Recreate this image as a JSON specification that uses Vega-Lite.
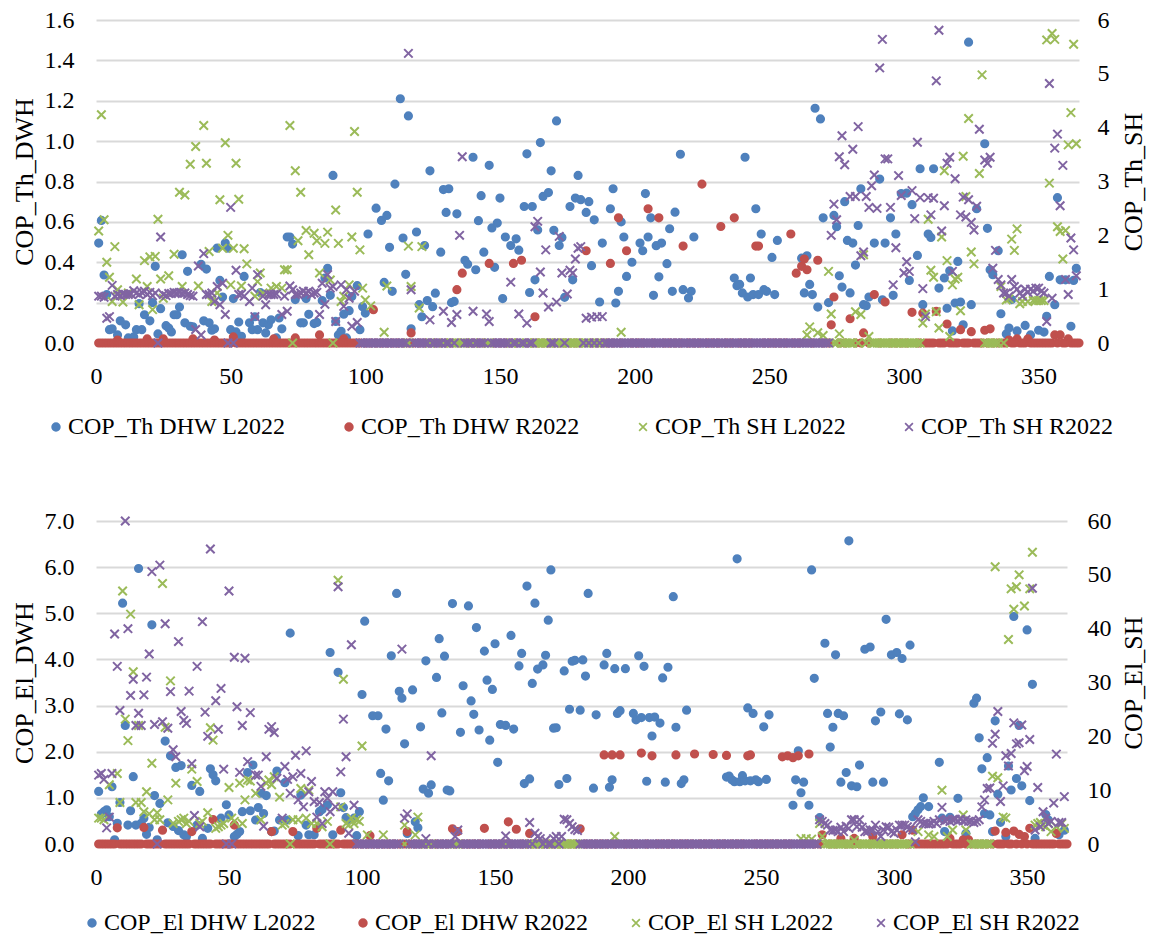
{"$schema":"https://vega.github.io/schema/vega-lite/v6.json","background":"white","padding":{"left":11,"top":8,"right":0,"bottom":0},"bounds":"flush","spacing":178,"resolve":{"scale":{"stroke":"independent","fill":"independent","shape":"independent"},"legend":{"stroke":"independent","fill":"independent","shape":"independent"}},"config":{"view":{"stroke":null},"font":"Liberation Serif","axis":{"labelFont":"Liberation Serif","titleFont":"Liberation Serif","labelFontSize":24,"titleFontSize":26,"labelColor":"#000","titleColor":"#000","titleFontWeight":"normal","ticks":false,"domain":false,"labelFlush":false},"legend":{"labelFont":"Liberation Serif","labelFontSize":24,"labelColor":"#000","labelLimit":0}},
"datasets":{
"a":[{"d":1,"v":0.495},{"d":2,"v":0.607},{"d":3,"v":0.337},{"d":4,"v":0.24},{"d":5,"v":0.066},{"d":6,"v":0.07},{"d":8,"v":0.04},{"d":9,"v":0.11},{"d":11,"v":0.09},{"d":12,"v":0.025},{"d":14,"v":0.03},{"d":15,"v":0.066},{"d":16,"v":0.195},{"d":17,"v":0.066},{"d":18,"v":0.14},{"d":20,"v":0.11},{"d":21,"v":0.2},{"d":22,"v":0.38},{"d":23,"v":0.045},{"d":24,"v":0.17},{"d":26,"v":0.086},{"d":27,"v":0.074},{"d":28,"v":0.055},{"d":29,"v":0.14},{"d":30,"v":0.14},{"d":31,"v":0.178},{"d":32,"v":0.437},{"d":33,"v":0.1},{"d":34,"v":0.355},{"d":35,"v":0.083},{"d":36,"v":0.08},{"d":39,"v":0.39},{"d":40,"v":0.11},{"d":41,"v":0.366},{"d":42,"v":0.1},{"d":43,"v":0.063},{"d":44,"v":0.07},{"d":45,"v":0.47},{"d":46,"v":0.31},{"d":47,"v":0.228},{"d":48,"v":0.495},{"d":49,"v":0.47},{"d":50,"v":0.066},{"d":51,"v":0.22},{"d":52,"v":0.055},{"d":53,"v":0.104},{"d":54,"v":0.033},{"d":55,"v":0.33},{"d":57,"v":0.1},{"d":58,"v":0.066},{"d":59,"v":0.13},{"d":60,"v":0.066},{"d":61,"v":0.25},{"d":62,"v":0.1},{"d":63,"v":0.05},{"d":64,"v":0.09},{"d":65,"v":0.115},{"d":67,"v":0.025},{"d":68,"v":0.124},{"d":69,"v":0.07},{"d":71,"v":0.525},{"d":72,"v":0.525},{"d":73,"v":0.49},{"d":74,"v":0.215},{"d":76,"v":0.1},{"d":77,"v":0.1},{"d":78,"v":0.22},{"d":79,"v":0.142},{"d":81,"v":0.096},{"d":82,"v":0.102},{"d":84,"v":0.21},{"d":85,"v":0.322},{"d":86,"v":0.37},{"d":87,"v":0.236},{"d":88,"v":0.83},{"d":89,"v":0.107},{"d":90,"v":0.04},{"d":91,"v":0.058},{"d":92,"v":0.143},{"d":93,"v":0.025},{"d":94,"v":0.16},{"d":95,"v":0.23},{"d":97,"v":0.284},{"d":98,"v":0.066},{"d":99,"v":0.18},{"d":100,"v":0.148},{"d":101,"v":0.54},{"d":104,"v":0.668},{"d":106,"v":0.607},{"d":107,"v":0.3},{"d":108,"v":0.632},{"d":109,"v":0.474},{"d":110,"v":0.256},{"d":111,"v":0.787},{"d":113,"v":1.21},{"d":114,"v":0.52},{"d":115,"v":0.34},{"d":116,"v":1.125},{"d":117,"v":0.07},{"d":119,"v":0.55},{"d":120,"v":0.19},{"d":121,"v":0.13},{"d":122,"v":0.483},{"d":123,"v":0.21},{"d":124,"v":0.853},{"d":125,"v":0.18},{"d":126,"v":0.247},{"d":128,"v":0.45},{"d":129,"v":0.76},{"d":130,"v":0.647},{"d":131,"v":0.764},{"d":132,"v":0.2},{"d":133,"v":0.206},{"d":134,"v":0.64},{"d":137,"v":0.41},{"d":138,"v":0.39},{"d":140,"v":0.92},{"d":141,"v":0.363},{"d":142,"v":0.606},{"d":143,"v":0.73},{"d":144,"v":0.45},{"d":146,"v":0.88},{"d":147,"v":0.57},{"d":148,"v":0.375},{"d":149,"v":0.594},{"d":150,"v":0.718},{"d":151,"v":0.22},{"d":152,"v":0.525},{"d":154,"v":0.483},{"d":156,"v":0.516},{"d":157,"v":0.46},{"d":159,"v":0.676},{"d":160,"v":0.937},{"d":161,"v":0.25},{"d":162,"v":0.676},{"d":163,"v":0.313},{"d":164,"v":0.56},{"d":165,"v":0.993},{"d":166,"v":0.726},{"d":168,"v":0.745},{"d":169,"v":0.853},{"d":170,"v":0.558},{"d":171,"v":1.1},{"d":172,"v":0.483},{"d":173,"v":0.523},{"d":174,"v":0.226},{"d":176,"v":0.676},{"d":177,"v":0.313},{"d":178,"v":0.718},{"d":179,"v":0.83},{"d":180,"v":0.71},{"d":182,"v":0.647},{"d":183,"v":0.7},{"d":184,"v":0.383},{"d":185,"v":0.61},{"d":187,"v":0.203},{"d":188,"v":0.495},{"d":191,"v":0.665},{"d":192,"v":0.764},{"d":193,"v":0.198},{"d":194,"v":0.256},{"d":195,"v":0.6},{"d":196,"v":0.525},{"d":197,"v":0.33},{"d":199,"v":0.4},{"d":202,"v":0.495},{"d":203,"v":0.457},{"d":204,"v":0.74},{"d":205,"v":0.525},{"d":206,"v":0.62},{"d":207,"v":0.236},{"d":208,"v":0.482},{"d":209,"v":0.328},{"d":210,"v":0.495},{"d":212,"v":0.393},{"d":213,"v":0.566},{"d":214,"v":0.256},{"d":215,"v":0.648},{"d":217,"v":0.935},{"d":218,"v":0.264},{"d":220,"v":0.223},{"d":221,"v":0.256},{"d":222,"v":0.525},{"d":237,"v":0.322},{"d":238,"v":0.284},{"d":239,"v":0.29},{"d":240,"v":0.248},{"d":241,"v":0.92},{"d":242,"v":0.228},{"d":243,"v":0.322},{"d":244,"v":0.24},{"d":245,"v":0.665},{"d":246,"v":0.24},{"d":247,"v":0.54},{"d":248,"v":0.264},{"d":249,"v":0.256},{"d":251,"v":0.424},{"d":252,"v":0.24},{"d":253,"v":0.508},{"d":262,"v":0.42},{"d":263,"v":0.248},{"d":264,"v":0.432},{"d":265,"v":0.29},{"d":266,"v":0.24},{"d":267,"v":1.163},{"d":268,"v":0.178},{"d":269,"v":1.11},{"d":270,"v":0.62},{"d":272,"v":0.2},{"d":274,"v":0.632},{"d":275,"v":0.576},{"d":276,"v":0.333},{"d":277,"v":0.277},{"d":278,"v":0.7},{"d":279,"v":0.508},{"d":280,"v":0.248},{"d":281,"v":0.495},{"d":282,"v":0.386},{"d":283,"v":0.582},{"d":284,"v":0.764},{"d":285,"v":0.19},{"d":286,"v":0.185},{"d":287,"v":0.228},{"d":289,"v":0.495},{"d":291,"v":0.812},{"d":292,"v":0.214},{"d":293,"v":0.495},{"d":295,"v":0.62},{"d":296,"v":0.236},{"d":297,"v":0.54},{"d":299,"v":0.74},{"d":301,"v":0.742},{"d":302,"v":0.31},{"d":303,"v":0.685},{"d":305,"v":0.434},{"d":306,"v":0.863},{"d":307,"v":0.19},{"d":309,"v":0.54},{"d":310,"v":0.523},{"d":311,"v":0.863},{"d":313,"v":0.272},{"d":315,"v":0.322},{"d":316,"v":0.172},{"d":317,"v":0.358},{"d":318,"v":0.06},{"d":319,"v":0.198},{"d":320,"v":0.404},{"d":321,"v":0.203},{"d":322,"v":0.09},{"d":324,"v":1.49},{"d":325,"v":0.19},{"d":327,"v":0.665},{"d":330,"v":0.987},{"d":331,"v":0.568},{"d":332,"v":0.363},{"d":333,"v":0.338},{"d":335,"v":0.457},{"d":336,"v":0.145},{"d":338,"v":0.045},{"d":339,"v":0.074},{"d":340,"v":0.215},{"d":342,"v":0.06},{"d":345,"v":0.087},{"d":347,"v":0.04},{"d":350,"v":0.063},{"d":352,"v":0.054},{"d":353,"v":0.132},{"d":354,"v":0.33},{"d":356,"v":0.19},{"d":357,"v":0.72},{"d":358,"v":0.313},{"d":360,"v":0.313},{"d":362,"v":0.083},{"d":363,"v":0.31},{"d":364,"v":0.37}],
"b":[{"d":8,"v":0.015},{"d":19,"v":0.02},{"d":25,"v":0.02},{"d":36,"v":0.02},{"d":44,"v":0.015},{"d":51,"v":0.03},{"d":66,"v":0.02},{"d":74,"v":0.025},{"d":83,"v":0.04},{"d":92,"v":0.02},{"d":103,"v":0.165},{"d":117,"v":0.05},{"d":134,"v":0.264},{"d":136,"v":0.346},{"d":146,"v":0.394},{"d":155,"v":0.394},{"d":158,"v":0.41},{"d":163,"v":0.13},{"d":182,"v":0.457},{"d":191,"v":0.394},{"d":194,"v":0.62},{"d":197,"v":0.457},{"d":205,"v":0.665},{"d":209,"v":0.62},{"d":218,"v":0.48},{"d":225,"v":0.787},{"d":232,"v":0.577},{"d":237,"v":0.62},{"d":245,"v":0.48},{"d":246,"v":0.48},{"d":258,"v":0.54},{"d":260,"v":0.346},{"d":262,"v":0.38},{"d":263,"v":0.416},{"d":264,"v":0.363},{"d":268,"v":0.41},{"d":273,"v":0.09},{"d":274,"v":0.228},{"d":280,"v":0.12},{"d":285,"v":0.05},{"d":289,"v":0.24},{"d":293,"v":0.203},{"d":303,"v":0.152},{"d":307,"v":0.148},{"d":312,"v":0.157},{"d":316,"v":0.094},{"d":321,"v":0.066},{"d":325,"v":0.056},{"d":330,"v":0.063},{"d":332,"v":0.07},{"d":339,"v":0.015},{"d":342,"v":0.02},{"d":346,"v":0.02},{"d":356,"v":0.04},{"d":358,"v":0.04},{"d":361,"v":0.02},{"d":1,"v":0},{"d":2,"v":0},{"d":3,"v":0},{"d":4,"v":0},{"d":5,"v":0},{"d":6,"v":0},{"d":7,"v":0},{"d":8,"v":0},{"d":9,"v":0},{"d":10,"v":0},{"d":11,"v":0},{"d":12,"v":0},{"d":13,"v":0},{"d":14,"v":0},{"d":15,"v":0},{"d":16,"v":0},{"d":17,"v":0},{"d":18,"v":0},{"d":19,"v":0},{"d":20,"v":0},{"d":21,"v":0},{"d":22,"v":0},{"d":23,"v":0},{"d":24,"v":0},{"d":25,"v":0},{"d":26,"v":0},{"d":27,"v":0},{"d":28,"v":0},{"d":29,"v":0},{"d":30,"v":0},{"d":31,"v":0},{"d":32,"v":0},{"d":33,"v":0},{"d":34,"v":0},{"d":35,"v":0},{"d":36,"v":0},{"d":37,"v":0},{"d":38,"v":0},{"d":39,"v":0},{"d":40,"v":0},{"d":41,"v":0},{"d":42,"v":0},{"d":43,"v":0},{"d":44,"v":0},{"d":45,"v":0},{"d":46,"v":0},{"d":47,"v":0},{"d":48,"v":0},{"d":49,"v":0},{"d":50,"v":0},{"d":52,"v":0},{"d":53,"v":0},{"d":54,"v":0},{"d":55,"v":0},{"d":56,"v":0},{"d":57,"v":0},{"d":58,"v":0},{"d":59,"v":0},{"d":60,"v":0},{"d":61,"v":0},{"d":62,"v":0},{"d":63,"v":0},{"d":64,"v":0},{"d":65,"v":0},{"d":66,"v":0},{"d":67,"v":0},{"d":68,"v":0},{"d":69,"v":0},{"d":70,"v":0},{"d":71,"v":0},{"d":72,"v":0},{"d":73,"v":0},{"d":74,"v":0},{"d":75,"v":0},{"d":76,"v":0},{"d":77,"v":0},{"d":78,"v":0},{"d":79,"v":0},{"d":80,"v":0},{"d":81,"v":0},{"d":82,"v":0},{"d":83,"v":0},{"d":84,"v":0},{"d":85,"v":0},{"d":86,"v":0},{"d":87,"v":0},{"d":88,"v":0},{"d":89,"v":0},{"d":90,"v":0},{"d":91,"v":0},{"d":92,"v":0},{"d":93,"v":0},{"d":94,"v":0},{"d":95,"v":0},{"d":96,"v":0},{"d":97,"v":0},{"d":98,"v":0},{"d":100,"v":0},{"d":102,"v":0},{"d":104,"v":0},{"d":106,"v":0},{"d":108,"v":0},{"d":110,"v":0},{"d":112,"v":0},{"d":114,"v":0},{"d":116,"v":0},{"d":118,"v":0},{"d":120,"v":0},{"d":122,"v":0},{"d":124,"v":0},{"d":126,"v":0},{"d":128,"v":0},{"d":130,"v":0},{"d":132,"v":0},{"d":135,"v":0},{"d":138,"v":0},{"d":140,"v":0},{"d":142,"v":0},{"d":144,"v":0},{"d":148,"v":0},{"d":150,"v":0},{"d":152,"v":0},{"d":154,"v":0},{"d":156,"v":0},{"d":160,"v":0},{"d":162,"v":0},{"d":164,"v":0},{"d":166,"v":0},{"d":168,"v":0},{"d":170,"v":0},{"d":172,"v":0},{"d":174,"v":0},{"d":176,"v":0},{"d":178,"v":0},{"d":180,"v":0},{"d":184,"v":0},{"d":186,"v":0},{"d":188,"v":0},{"d":190,"v":0},{"d":192,"v":0},{"d":195,"v":0},{"d":199,"v":0},{"d":201,"v":0},{"d":203,"v":0},{"d":207,"v":0},{"d":211,"v":0},{"d":213,"v":0},{"d":215,"v":0},{"d":217,"v":0},{"d":220,"v":0},{"d":222,"v":0},{"d":224,"v":0},{"d":227,"v":0},{"d":229,"v":0},{"d":231,"v":0},{"d":234,"v":0},{"d":236,"v":0},{"d":239,"v":0},{"d":241,"v":0},{"d":243,"v":0},{"d":248,"v":0},{"d":250,"v":0},{"d":252,"v":0},{"d":254,"v":0},{"d":256,"v":0},{"d":259,"v":0},{"d":261,"v":0},{"d":266,"v":0},{"d":270,"v":0},{"d":272,"v":0},{"d":276,"v":0},{"d":278,"v":0},{"d":282,"v":0},{"d":284,"v":0},{"d":287,"v":0},{"d":291,"v":0},{"d":295,"v":0},{"d":297,"v":0},{"d":299,"v":0},{"d":301,"v":0},{"d":305,"v":0},{"d":306,"v":0},{"d":308,"v":0},{"d":309,"v":0},{"d":310,"v":0},{"d":311,"v":0},{"d":313,"v":0},{"d":314,"v":0},{"d":315,"v":0},{"d":317,"v":0},{"d":318,"v":0},{"d":319,"v":0},{"d":320,"v":0},{"d":322,"v":0},{"d":323,"v":0},{"d":324,"v":0},{"d":326,"v":0},{"d":327,"v":0},{"d":328,"v":0},{"d":329,"v":0},{"d":331,"v":0},{"d":333,"v":0},{"d":335,"v":0},{"d":337,"v":0},{"d":338,"v":0},{"d":340,"v":0},{"d":341,"v":0},{"d":343,"v":0},{"d":344,"v":0},{"d":345,"v":0},{"d":347,"v":0},{"d":348,"v":0},{"d":349,"v":0},{"d":350,"v":0},{"d":351,"v":0},{"d":352,"v":0},{"d":353,"v":0},{"d":354,"v":0},{"d":355,"v":0},{"d":357,"v":0},{"d":359,"v":0},{"d":360,"v":0},{"d":362,"v":0},{"d":363,"v":0},{"d":364,"v":0},{"d":365,"v":0}],
"c":[{"d":1,"v":2.08},{"d":2,"v":4.24},{"d":3,"v":2.29},{"d":4,"v":1.5},{"d":5,"v":1.22},{"d":6,"v":0.77},{"d":7,"v":1.79},{"d":8,"v":0.99},{"d":10,"v":0.76},{"d":12,"v":0.93},{"d":15,"v":1.19},{"d":16,"v":0.71},{"d":18,"v":1.53},{"d":19,"v":1.05},{"d":20,"v":1.6},{"d":21,"v":0.62},{"d":22,"v":1.61},{"d":23,"v":2.3},{"d":24,"v":1.19},{"d":25,"v":0.83},{"d":27,"v":1.25},{"d":29,"v":1.65},{"d":31,"v":2.8},{"d":32,"v":1.05},{"d":33,"v":2.75},{"d":35,"v":3.32},{"d":37,"v":3.65},{"d":38,"v":1.06},{"d":40,"v":4.04},{"d":41,"v":3.34},{"d":42,"v":1.7},{"d":43,"v":0.77},{"d":45,"v":0.93},{"d":46,"v":2.66},{"d":47,"v":1.76},{"d":48,"v":3.72},{"d":49,"v":2.0},{"d":50,"v":1.08},{"d":51,"v":1.76},{"d":52,"v":3.34},{"d":53,"v":2.67},{"d":54,"v":1.06},{"d":55,"v":1.75},{"d":56,"v":1.47},{"d":59,"v":0.87},{"d":60,"v":1.14},{"d":61,"v":1.3},{"d":62,"v":0.93},{"d":65,"v":1.02},{"d":67,"v":1.05},{"d":69,"v":1.02},{"d":70,"v":1.36},{"d":71,"v":1.36},{"d":72,"v":4.04},{"d":73,"v":0},{"d":74,"v":3.2},{"d":75,"v":1.9},{"d":76,"v":2.8},{"d":78,"v":2.09},{"d":79,"v":1.64},{"d":81,"v":2.04},{"d":82,"v":1.9},{"d":83,"v":1.3},{"d":85,"v":1.85},{"d":86,"v":2.06},{"d":87,"v":1.17},{"d":88,"v":0},{"d":89,"v":2.47},{"d":90,"v":1.85},{"d":91,"v":0.77},{"d":92,"v":0.87},{"d":94,"v":1.08},{"d":95,"v":1.97},{"d":96,"v":3.93},{"d":97,"v":2.8},{"d":98,"v":1.73},{"d":99,"v":1.02},{"d":100,"v":0.8},{"d":102,"v":0.69},{"d":107,"v":0.2},{"d":108,"v":1.06},{"d":116,"v":1.8},{"d":117,"v":1.05},{"d":120,"v":0.65},{"d":121,"v":1.79},{"d":195,"v":0.2},{"d":264,"v":0.15},{"d":265,"v":0.3},{"d":268,"v":0.19},{"d":270,"v":0.14},{"d":272,"v":1.33},{"d":273,"v":0.54},{"d":276,"v":0.17},{"d":282,"v":0.58},{"d":284,"v":0.53},{"d":285,"v":1.64},{"d":287,"v":0.12},{"d":307,"v":0.37},{"d":308,"v":0.54},{"d":309,"v":2.3},{"d":310,"v":1.35},{"d":311,"v":1.22},{"d":312,"v":0.58},{"d":313,"v":0.28},{"d":314,"v":1.97},{"d":315,"v":3.2},{"d":316,"v":1.53},{"d":317,"v":0.12},{"d":318,"v":1.08},{"d":319,"v":1.19},{"d":320,"v":1.22},{"d":321,"v":0.6},{"d":322,"v":3.47},{"d":323,"v":2.72},{"d":324,"v":4.17},{"d":325,"v":1.69},{"d":326,"v":1.47},{"d":328,"v":3.15},{"d":329,"v":4.98},{"d":336,"v":1.05},{"d":338,"v":0.8},{"d":339,"v":0.82},{"d":340,"v":1.93},{"d":341,"v":1.72},{"d":342,"v":2.12},{"d":343,"v":0.73},{"d":344,"v":0.77},{"d":346,"v":0.77},{"d":348,"v":0.79},{"d":349,"v":0.79},{"d":350,"v":0.79},{"d":351,"v":0.79},{"d":352,"v":0.79},{"d":353,"v":5.63},{"d":354,"v":2.97},{"d":355,"v":5.75},{"d":356,"v":5.64},{"d":357,"v":2.16},{"d":358,"v":2.07},{"d":359,"v":1.56},{"d":360,"v":2.09},{"d":361,"v":3.68},{"d":362,"v":4.28},{"d":363,"v":5.55},{"d":364,"v":3.7},{"d":116,"v":0},{"d":124,"v":0},{"d":129,"v":0},{"d":132,"v":0},{"d":134,"v":0},{"d":135,"v":0},{"d":136,"v":0},{"d":140,"v":0},{"d":145,"v":0},{"d":146,"v":0},{"d":154,"v":0},{"d":157,"v":0},{"d":160,"v":0},{"d":163,"v":0},{"d":164,"v":0},{"d":165,"v":0},{"d":166,"v":0},{"d":167,"v":0},{"d":168,"v":0},{"d":171,"v":0},{"d":172,"v":0},{"d":173,"v":0},{"d":175,"v":0},{"d":176,"v":0},{"d":177,"v":0},{"d":178,"v":0},{"d":179,"v":0},{"d":180,"v":0},{"d":182,"v":0},{"d":184,"v":0},{"d":186,"v":0},{"d":188,"v":0},{"d":274,"v":0},{"d":275,"v":0},{"d":277,"v":0},{"d":278,"v":0},{"d":279,"v":0},{"d":280,"v":0},{"d":281,"v":0},{"d":283,"v":0},{"d":286,"v":0},{"d":288,"v":0},{"d":289,"v":0},{"d":290,"v":0},{"d":291,"v":0},{"d":292,"v":0},{"d":293,"v":0},{"d":294,"v":0},{"d":295,"v":0},{"d":296,"v":0},{"d":297,"v":0},{"d":298,"v":0},{"d":299,"v":0},{"d":300,"v":0},{"d":301,"v":0},{"d":302,"v":0},{"d":303,"v":0},{"d":304,"v":0},{"d":305,"v":0},{"d":306,"v":0},{"d":330,"v":0},{"d":331,"v":0},{"d":332,"v":0},{"d":333,"v":0},{"d":334,"v":0},{"d":335,"v":0},{"d":337,"v":0}],
"e":[{"d":1,"v":0.87},{"d":2,"v":0.87},{"d":3,"v":0.85},{"d":4,"v":0.46},{"d":5,"v":0.49},{"d":6,"v":1.07},{"d":7,"v":0.87},{"d":8,"v":0.9},{"d":9,"v":0.88},{"d":10,"v":0.91},{"d":11,"v":0.9},{"d":12,"v":0.9},{"d":13,"v":0.91},{"d":14,"v":0.97},{"d":15,"v":0.93},{"d":16,"v":0.9},{"d":17,"v":0.94},{"d":18,"v":0.96},{"d":19,"v":0.9},{"d":20,"v":0.94},{"d":21,"v":0.88},{"d":22,"v":0.93},{"d":23,"v":0},{"d":24,"v":1.97},{"d":25,"v":0.9},{"d":26,"v":0.88},{"d":27,"v":0.92},{"d":28,"v":0.92},{"d":29,"v":0.94},{"d":30,"v":0.93},{"d":31,"v":0.94},{"d":32,"v":0.92},{"d":33,"v":0.93},{"d":34,"v":0.9},{"d":35,"v":0.88},{"d":36,"v":0.87},{"d":37,"v":0.25},{"d":38,"v":1.43},{"d":39,"v":0.15},{"d":40,"v":1.66},{"d":41,"v":0.9},{"d":42,"v":0.9},{"d":43,"v":0.93},{"d":44,"v":0.77},{"d":45,"v":1.05},{"d":46,"v":0.71},{"d":47,"v":1.11},{"d":48,"v":0.53},{"d":49,"v":0},{"d":50,"v":2.52},{"d":51,"v":0},{"d":52,"v":1.35},{"d":53,"v":0.9},{"d":54,"v":0.91},{"d":55,"v":0.87},{"d":57,"v":0.77},{"d":58,"v":1.02},{"d":59,"v":0.49},{"d":60,"v":1.27},{"d":62,"v":0.87},{"d":63,"v":0.71},{"d":64,"v":0.9},{"d":65,"v":0.9},{"d":66,"v":0.9},{"d":67,"v":0.91},{"d":69,"v":0.53},{"d":70,"v":0.87},{"d":71,"v":0.59},{"d":72,"v":1.06},{"d":73,"v":0.99},{"d":74,"v":0.9},{"d":75,"v":0.9},{"d":76,"v":0.93},{"d":77,"v":0.96},{"d":78,"v":0.93},{"d":79,"v":0.96},{"d":80,"v":0.9},{"d":81,"v":0.93},{"d":82,"v":0.94},{"d":83,"v":0.53},{"d":84,"v":1.11},{"d":85,"v":0.72},{"d":86,"v":1.27},{"d":87,"v":1.02},{"d":88,"v":1.05},{"d":89,"v":0.4},{"d":91,"v":1.08},{"d":92,"v":0.68},{"d":93,"v":0.99},{"d":94,"v":0.83},{"d":95,"v":0.31},{"d":96,"v":0.96},{"d":97,"v":0.38},{"d":116,"v":5.38},{"d":117,"v":0.99},{"d":124,"v":0.43},{"d":129,"v":0.59},{"d":132,"v":0.38},{"d":134,"v":0.53},{"d":135,"v":2.0},{"d":136,"v":3.46},{"d":140,"v":0.59},{"d":145,"v":0.54},{"d":146,"v":0.4},{"d":154,"v":1.13},{"d":157,"v":0.54},{"d":160,"v":0.37},{"d":163,"v":2.16},{"d":164,"v":2.26},{"d":165,"v":1.32},{"d":166,"v":0.93},{"d":167,"v":1.73},{"d":168,"v":0.67},{"d":171,"v":0.76},{"d":172,"v":1.98},{"d":173,"v":1.3},{"d":175,"v":0.91},{"d":176,"v":1.35},{"d":177,"v":1.3},{"d":178,"v":1.56},{"d":179,"v":1.76},{"d":180,"v":1.79},{"d":182,"v":0.46},{"d":184,"v":0.48},{"d":186,"v":0.49},{"d":188,"v":0.49},{"d":273,"v":2.0},{"d":274,"v":2.58},{"d":275,"v":2.29},{"d":276,"v":3.46},{"d":277,"v":3.85},{"d":278,"v":3.31},{"d":280,"v":2.72},{"d":281,"v":3.6},{"d":282,"v":2.72},{"d":283,"v":4.02},{"d":284,"v":1.62},{"d":285,"v":1.69},{"d":286,"v":2.72},{"d":287,"v":2.52},{"d":288,"v":2.92},{"d":289,"v":3.12},{"d":290,"v":2.5},{"d":291,"v":5.11},{"d":292,"v":5.64},{"d":293,"v":3.42},{"d":294,"v":3.42},{"d":295,"v":2.52},{"d":296,"v":1.08},{"d":297,"v":1.77},{"d":298,"v":3.11},{"d":299,"v":2.74},{"d":300,"v":1.3},{"d":301,"v":1.51},{"d":302,"v":1.33},{"d":303,"v":2.83},{"d":304,"v":2.31},{"d":305,"v":3.73},{"d":306,"v":2.7},{"d":307,"v":1.01},{"d":308,"v":0.49},{"d":309,"v":2.7},{"d":310,"v":2.38},{"d":311,"v":2.69},{"d":312,"v":4.87},{"d":313,"v":5.81},{"d":314,"v":2.08},{"d":315,"v":2.55},{"d":316,"v":3.34},{"d":317,"v":3.45},{"d":318,"v":1.33},{"d":319,"v":3.05},{"d":321,"v":2.38},{"d":322,"v":2.71},{"d":323,"v":2.34},{"d":324,"v":2.66},{"d":325,"v":2.24},{"d":326,"v":2.1},{"d":327,"v":2.54},{"d":328,"v":3.97},{"d":330,"v":3.4},{"d":331,"v":3.34},{"d":332,"v":3.45},{"d":333,"v":1.39},{"d":334,"v":1.72},{"d":335,"v":1.18},{"d":336,"v":1.08},{"d":337,"v":0.93},{"d":338,"v":0.93},{"d":339,"v":0.87},{"d":340,"v":1.18},{"d":341,"v":1.05},{"d":342,"v":1.0},{"d":343,"v":0.93},{"d":344,"v":0.87},{"d":345,"v":1.0},{"d":346,"v":0.94},{"d":347,"v":1.0},{"d":348,"v":0.96},{"d":349,"v":1.02},{"d":350,"v":1.02},{"d":351,"v":0.96},{"d":352,"v":0.93},{"d":353,"v":0.4},{"d":354,"v":4.82},{"d":355,"v":0.83},{"d":356,"v":3.62},{"d":357,"v":3.88},{"d":358,"v":2.55},{"d":359,"v":3.3},{"d":360,"v":1.18},{"d":361,"v":0.9},{"d":362,"v":1.95},{"d":363,"v":1.73},{"d":364,"v":1.25},{"d":98,"v":0},{"d":99,"v":0},{"d":100,"v":0},{"d":101,"v":0},{"d":102,"v":0},{"d":103,"v":0},{"d":104,"v":0},{"d":105,"v":0},{"d":106,"v":0},{"d":107,"v":0},{"d":108,"v":0},{"d":109,"v":0},{"d":110,"v":0},{"d":111,"v":0},{"d":112,"v":0},{"d":113,"v":0},{"d":114,"v":0},{"d":115,"v":0},{"d":118,"v":0},{"d":119,"v":0},{"d":120,"v":0},{"d":121,"v":0},{"d":122,"v":0},{"d":123,"v":0},{"d":125,"v":0},{"d":126,"v":0},{"d":127,"v":0},{"d":128,"v":0},{"d":130,"v":0},{"d":131,"v":0},{"d":133,"v":0},{"d":137,"v":0},{"d":138,"v":0},{"d":139,"v":0},{"d":141,"v":0},{"d":142,"v":0},{"d":143,"v":0},{"d":144,"v":0},{"d":147,"v":0},{"d":148,"v":0},{"d":149,"v":0},{"d":150,"v":0},{"d":151,"v":0},{"d":152,"v":0},{"d":153,"v":0},{"d":155,"v":0},{"d":156,"v":0},{"d":158,"v":0},{"d":159,"v":0},{"d":161,"v":0},{"d":162,"v":0},{"d":169,"v":0},{"d":170,"v":0},{"d":174,"v":0},{"d":181,"v":0},{"d":183,"v":0},{"d":185,"v":0},{"d":187,"v":0},{"d":189,"v":0},{"d":190,"v":0},{"d":191,"v":0},{"d":192,"v":0},{"d":193,"v":0},{"d":194,"v":0},{"d":195,"v":0},{"d":196,"v":0},{"d":197,"v":0},{"d":198,"v":0},{"d":199,"v":0},{"d":200,"v":0},{"d":201,"v":0},{"d":202,"v":0},{"d":203,"v":0},{"d":204,"v":0},{"d":205,"v":0},{"d":206,"v":0},{"d":207,"v":0},{"d":208,"v":0},{"d":209,"v":0},{"d":210,"v":0},{"d":211,"v":0},{"d":212,"v":0},{"d":213,"v":0},{"d":214,"v":0},{"d":215,"v":0},{"d":216,"v":0},{"d":217,"v":0},{"d":218,"v":0},{"d":219,"v":0},{"d":220,"v":0},{"d":221,"v":0},{"d":222,"v":0},{"d":223,"v":0},{"d":224,"v":0},{"d":225,"v":0},{"d":226,"v":0},{"d":227,"v":0},{"d":228,"v":0},{"d":229,"v":0},{"d":230,"v":0},{"d":231,"v":0},{"d":232,"v":0},{"d":233,"v":0},{"d":234,"v":0},{"d":235,"v":0},{"d":236,"v":0},{"d":237,"v":0},{"d":238,"v":0},{"d":239,"v":0},{"d":240,"v":0},{"d":241,"v":0},{"d":242,"v":0},{"d":243,"v":0},{"d":244,"v":0},{"d":245,"v":0},{"d":246,"v":0},{"d":247,"v":0},{"d":248,"v":0},{"d":249,"v":0},{"d":250,"v":0},{"d":251,"v":0},{"d":252,"v":0},{"d":253,"v":0},{"d":254,"v":0},{"d":255,"v":0},{"d":256,"v":0},{"d":257,"v":0},{"d":258,"v":0},{"d":259,"v":0},{"d":260,"v":0},{"d":261,"v":0},{"d":262,"v":0},{"d":263,"v":0},{"d":264,"v":0},{"d":265,"v":0},{"d":266,"v":0},{"d":267,"v":0},{"d":268,"v":0},{"d":269,"v":0},{"d":270,"v":0},{"d":271,"v":0},{"d":272,"v":0}],
"f":[{"d":1,"v":1.14},{"d":2,"v":0.65},{"d":3,"v":0.7},{"d":4,"v":0.74},{"d":5,"v":0.59},{"d":6,"v":1.24},{"d":7,"v":0.09},{"d":8,"v":0.45},{"d":9,"v":0.9},{"d":10,"v":5.22},{"d":11,"v":2.57},{"d":12,"v":0.41},{"d":13,"v":0.72},{"d":14,"v":1.46},{"d":15,"v":0.41},{"d":16,"v":5.97},{"d":17,"v":0.45},{"d":18,"v":0.56},{"d":19,"v":0.21},{"d":20,"v":0.36},{"d":21,"v":4.75},{"d":22,"v":1.05},{"d":23,"v":0.09},{"d":24,"v":0.88},{"d":26,"v":2.23},{"d":27,"v":0.46},{"d":28,"v":1.91},{"d":29,"v":0.38},{"d":30,"v":1.66},{"d":31,"v":0.29},{"d":32,"v":1.7},{"d":33,"v":0.2},{"d":34,"v":0.16},{"d":36,"v":1.27},{"d":38,"v":0.41},{"d":39,"v":1.14},{"d":40,"v":0.12},{"d":42,"v":0.34},{"d":43,"v":1.63},{"d":44,"v":1.5},{"d":45,"v":1.37},{"d":47,"v":0.56},{"d":49,"v":0.85},{"d":50,"v":0.63},{"d":52,"v":0.16},{"d":53,"v":0.21},{"d":54,"v":0.27},{"d":55,"v":0.7},{"d":57,"v":1.55},{"d":58,"v":0.72},{"d":59,"v":1.71},{"d":60,"v":0.52},{"d":61,"v":0.79},{"d":62,"v":1.1},{"d":63,"v":0.66},{"d":64,"v":1.05},{"d":66,"v":0.27},{"d":67,"v":0.28},{"d":68,"v":1.58},{"d":69,"v":0.52},{"d":71,"v":1.33},{"d":72,"v":0.52},{"d":73,"v":4.57},{"d":76,"v":0.18},{"d":77,"v":1.06},{"d":79,"v":0.41},{"d":80,"v":0.2},{"d":82,"v":0.2},{"d":84,"v":0.7},{"d":85,"v":0.75},{"d":87,"v":0.85},{"d":88,"v":4.15},{"d":89,"v":0.2},{"d":91,"v":3.72},{"d":92,"v":1.11},{"d":93,"v":0.79},{"d":94,"v":0.57},{"d":95,"v":0.52},{"d":97,"v":0.56},{"d":98,"v":0.18},{"d":99,"v":0.7},{"d":100,"v":3.24},{"d":101,"v":4.83},{"d":104,"v":2.78},{"d":106,"v":2.78},{"d":107,"v":1.53},{"d":108,"v":0.95},{"d":109,"v":2.49},{"d":110,"v":1.37},{"d":111,"v":4.08},{"d":113,"v":5.43},{"d":114,"v":3.31},{"d":115,"v":3.16},{"d":116,"v":2.17},{"d":117,"v":0.23},{"d":119,"v":3.34},{"d":120,"v":0.48},{"d":121,"v":0.35},{"d":122,"v":2.54},{"d":123,"v":1.19},{"d":124,"v":3.97},{"d":125,"v":1.1},{"d":126,"v":1.28},{"d":128,"v":3.61},{"d":129,"v":4.45},{"d":130,"v":2.84},{"d":131,"v":4.07},{"d":132,"v":1.17},{"d":133,"v":1.15},{"d":134,"v":5.21},{"d":137,"v":2.42},{"d":138,"v":3.43},{"d":140,"v":5.16},{"d":141,"v":3.1},{"d":142,"v":2.81},{"d":143,"v":4.69},{"d":144,"v":2.47},{"d":146,"v":4.18},{"d":147,"v":3.55},{"d":148,"v":2.25},{"d":149,"v":3.35},{"d":150,"v":4.34},{"d":151,"v":1.77},{"d":152,"v":2.59},{"d":154,"v":2.57},{"d":156,"v":4.52},{"d":157,"v":2.49},{"d":159,"v":3.86},{"d":160,"v":4.13},{"d":161,"v":1.31},{"d":162,"v":5.59},{"d":163,"v":1.41},{"d":164,"v":3.48},{"d":165,"v":5.22},{"d":166,"v":3.79},{"d":168,"v":3.88},{"d":169,"v":4.09},{"d":170,"v":4.85},{"d":171,"v":5.94},{"d":172,"v":2.51},{"d":173,"v":2.52},{"d":174,"v":1.29},{"d":176,"v":3.75},{"d":177,"v":1.42},{"d":178,"v":2.92},{"d":179,"v":3.96},{"d":180,"v":3.98},{"d":182,"v":2.9},{"d":183,"v":3.99},{"d":184,"v":3.64},{"d":185,"v":5.43},{"d":187,"v":1.21},{"d":188,"v":2.8},{"d":191,"v":3.88},{"d":192,"v":4.13},{"d":193,"v":1.23},{"d":194,"v":1.39},{"d":195,"v":3.8},{"d":196,"v":2.83},{"d":197,"v":2.89},{"d":199,"v":3.8},{"d":202,"v":2.83},{"d":203,"v":2.69},{"d":204,"v":4.08},{"d":205,"v":2.74},{"d":206,"v":3.85},{"d":207,"v":1.36},{"d":208,"v":2.74},{"d":209,"v":2.34},{"d":210,"v":2.75},{"d":212,"v":2.62},{"d":213,"v":3.6},{"d":214,"v":1.34},{"d":215,"v":3.83},{"d":217,"v":5.36},{"d":218,"v":2.53},{"d":220,"v":1.31},{"d":221,"v":1.39},{"d":222,"v":2.9},{"d":237,"v":1.45},{"d":238,"v":1.47},{"d":239,"v":1.39},{"d":240,"v":1.35},{"d":241,"v":6.18},{"d":242,"v":1.35},{"d":243,"v":1.48},{"d":244,"v":1.37},{"d":245,"v":2.95},{"d":246,"v":1.37},{"d":247,"v":2.83},{"d":248,"v":1.39},{"d":249,"v":1.35},{"d":251,"v":2.54},{"d":252,"v":1.4},{"d":253,"v":2.8},{"d":262,"v":0.84},{"d":263,"v":1.39},{"d":264,"v":2.02},{"d":265,"v":1.11},{"d":266,"v":1.34},{"d":268,"v":0.84},{"d":269,"v":5.94},{"d":270,"v":3.59},{"d":272,"v":0.57},{"d":274,"v":4.35},{"d":275,"v":2.83},{"d":276,"v":2.1},{"d":277,"v":2.53},{"d":278,"v":4.1},{"d":279,"v":2.83},{"d":280,"v":1.34},{"d":281,"v":2.78},{"d":282,"v":1.55},{"d":283,"v":6.57},{"d":284,"v":1.26},{"d":286,"v":1.24},{"d":287,"v":1.71},{"d":289,"v":4.22},{"d":291,"v":4.27},{"d":292,"v":1.34},{"d":293,"v":2.67},{"d":295,"v":2.86},{"d":296,"v":1.34},{"d":297,"v":4.87},{"d":299,"v":4.1},{"d":301,"v":4.15},{"d":302,"v":2.82},{"d":303,"v":4.02},{"d":305,"v":2.69},{"d":306,"v":4.31},{"d":307,"v":0.59},{"d":308,"v":0.66},{"d":309,"v":0.74},{"d":310,"v":0.81},{"d":311,"v":1.0},{"d":313,"v":0.81},{"d":317,"v":1.77},{"d":318,"v":0.56},{"d":319,"v":0.27},{"d":321,"v":0.58},{"d":324,"v":0.99},{"d":327,"v":0.23},{"d":330,"v":3.05},{"d":331,"v":3.16},{"d":332,"v":2.3},{"d":333,"v":1.63},{"d":334,"v":0.66},{"d":335,"v":1.87},{"d":336,"v":0.63},{"d":337,"v":0.27},{"d":338,"v":2.67},{"d":339,"v":1.08},{"d":340,"v":0.47},{"d":342,"v":0.16},{"d":343,"v":1.69},{"d":344,"v":1.17},{"d":345,"v":4.93},{"d":346,"v":1.42},{"d":347,"v":2.57},{"d":348,"v":1.26},{"d":350,"v":4.64},{"d":351,"v":0.94},{"d":352,"v":3.46},{"d":353,"v":0.12},{"d":357,"v":0.64},{"d":358,"v":0.52},{"d":362,"v":0.2},{"d":364,"v":0.3}],
"g":[{"d":8,"v":0.35},{"d":18,"v":0.36},{"d":25,"v":0.3},{"d":36,"v":0.27},{"d":44,"v":0.53},{"d":52,"v":0.41},{"d":66,"v":0.27},{"d":74,"v":0.27},{"d":83,"v":0.34},{"d":92,"v":0.3},{"d":103,"v":0.18},{"d":117,"v":0.27},{"d":134,"v":0.33},{"d":136,"v":0.27},{"d":146,"v":0.34},{"d":155,"v":0.48},{"d":158,"v":0.32},{"d":163,"v":0.23},{"d":182,"v":0.33},{"d":191,"v":1.93},{"d":194,"v":1.93},{"d":197,"v":1.93},{"d":205,"v":1.97},{"d":209,"v":1.91},{"d":218,"v":1.93},{"d":225,"v":1.95},{"d":232,"v":1.94},{"d":237,"v":1.92},{"d":245,"v":1.91},{"d":246,"v":1.93},{"d":258,"v":1.89},{"d":260,"v":1.91},{"d":262,"v":1.87},{"d":264,"v":1.91},{"d":268,"v":1.95},{"d":273,"v":0.2},{"d":280,"v":0.12},{"d":285,"v":0.12},{"d":292,"v":0.16},{"d":303,"v":0.2},{"d":307,"v":0.3},{"d":321,"v":0.12},{"d":326,"v":0.09},{"d":328,"v":0.09},{"d":338,"v":0.28},{"d":342,"v":0.25},{"d":345,"v":0.28},{"d":347,"v":0.21},{"d":349,"v":0.16},{"d":351,"v":0.34},{"d":361,"v":0.23},{"d":1,"v":0},{"d":2,"v":0},{"d":3,"v":0},{"d":4,"v":0},{"d":5,"v":0},{"d":6,"v":0},{"d":7,"v":0},{"d":9,"v":0},{"d":10,"v":0},{"d":11,"v":0},{"d":12,"v":0},{"d":13,"v":0},{"d":14,"v":0},{"d":15,"v":0},{"d":16,"v":0},{"d":17,"v":0},{"d":19,"v":0},{"d":20,"v":0},{"d":21,"v":0},{"d":22,"v":0},{"d":23,"v":0},{"d":24,"v":0},{"d":26,"v":0},{"d":27,"v":0},{"d":28,"v":0},{"d":29,"v":0},{"d":30,"v":0},{"d":31,"v":0},{"d":32,"v":0},{"d":33,"v":0},{"d":34,"v":0},{"d":35,"v":0},{"d":37,"v":0},{"d":38,"v":0},{"d":39,"v":0},{"d":40,"v":0},{"d":41,"v":0},{"d":42,"v":0},{"d":43,"v":0},{"d":45,"v":0},{"d":46,"v":0},{"d":47,"v":0},{"d":48,"v":0},{"d":49,"v":0},{"d":50,"v":0},{"d":51,"v":0},{"d":53,"v":0},{"d":54,"v":0},{"d":55,"v":0},{"d":56,"v":0},{"d":57,"v":0},{"d":58,"v":0},{"d":59,"v":0},{"d":60,"v":0},{"d":61,"v":0},{"d":62,"v":0},{"d":63,"v":0},{"d":64,"v":0},{"d":65,"v":0},{"d":67,"v":0},{"d":68,"v":0},{"d":69,"v":0},{"d":70,"v":0},{"d":71,"v":0},{"d":72,"v":0},{"d":73,"v":0},{"d":75,"v":0},{"d":76,"v":0},{"d":77,"v":0},{"d":78,"v":0},{"d":79,"v":0},{"d":80,"v":0},{"d":81,"v":0},{"d":82,"v":0},{"d":84,"v":0},{"d":85,"v":0},{"d":86,"v":0},{"d":87,"v":0},{"d":88,"v":0},{"d":89,"v":0},{"d":90,"v":0},{"d":91,"v":0},{"d":93,"v":0},{"d":94,"v":0},{"d":95,"v":0},{"d":96,"v":0},{"d":97,"v":0},{"d":98,"v":0},{"d":100,"v":0},{"d":102,"v":0},{"d":104,"v":0},{"d":106,"v":0},{"d":108,"v":0},{"d":110,"v":0},{"d":112,"v":0},{"d":114,"v":0},{"d":116,"v":0},{"d":118,"v":0},{"d":120,"v":0},{"d":122,"v":0},{"d":124,"v":0},{"d":126,"v":0},{"d":128,"v":0},{"d":130,"v":0},{"d":132,"v":0},{"d":135,"v":0},{"d":138,"v":0},{"d":140,"v":0},{"d":142,"v":0},{"d":144,"v":0},{"d":148,"v":0},{"d":150,"v":0},{"d":152,"v":0},{"d":154,"v":0},{"d":156,"v":0},{"d":160,"v":0},{"d":162,"v":0},{"d":164,"v":0},{"d":166,"v":0},{"d":168,"v":0},{"d":170,"v":0},{"d":172,"v":0},{"d":174,"v":0},{"d":176,"v":0},{"d":178,"v":0},{"d":180,"v":0},{"d":184,"v":0},{"d":186,"v":0},{"d":188,"v":0},{"d":190,"v":0},{"d":192,"v":0},{"d":195,"v":0},{"d":199,"v":0},{"d":201,"v":0},{"d":203,"v":0},{"d":207,"v":0},{"d":211,"v":0},{"d":213,"v":0},{"d":215,"v":0},{"d":217,"v":0},{"d":220,"v":0},{"d":222,"v":0},{"d":224,"v":0},{"d":227,"v":0},{"d":229,"v":0},{"d":231,"v":0},{"d":234,"v":0},{"d":236,"v":0},{"d":239,"v":0},{"d":241,"v":0},{"d":243,"v":0},{"d":248,"v":0},{"d":250,"v":0},{"d":252,"v":0},{"d":254,"v":0},{"d":256,"v":0},{"d":259,"v":0},{"d":261,"v":0},{"d":266,"v":0},{"d":270,"v":0},{"d":272,"v":0},{"d":276,"v":0},{"d":278,"v":0},{"d":282,"v":0},{"d":284,"v":0},{"d":287,"v":0},{"d":291,"v":0},{"d":295,"v":0},{"d":297,"v":0},{"d":299,"v":0},{"d":301,"v":0},{"d":305,"v":0},{"d":306,"v":0},{"d":308,"v":0},{"d":309,"v":0},{"d":310,"v":0},{"d":311,"v":0},{"d":312,"v":0},{"d":313,"v":0},{"d":314,"v":0},{"d":315,"v":0},{"d":316,"v":0},{"d":317,"v":0},{"d":318,"v":0},{"d":319,"v":0},{"d":320,"v":0},{"d":322,"v":0},{"d":323,"v":0},{"d":324,"v":0},{"d":325,"v":0},{"d":327,"v":0},{"d":329,"v":0},{"d":331,"v":0},{"d":333,"v":0},{"d":335,"v":0},{"d":337,"v":0},{"d":339,"v":0},{"d":340,"v":0},{"d":341,"v":0},{"d":343,"v":0},{"d":344,"v":0},{"d":346,"v":0},{"d":348,"v":0},{"d":350,"v":0},{"d":352,"v":0},{"d":353,"v":0},{"d":354,"v":0},{"d":355,"v":0},{"d":356,"v":0},{"d":357,"v":0},{"d":358,"v":0},{"d":359,"v":0},{"d":360,"v":0},{"d":362,"v":0},{"d":363,"v":0},{"d":364,"v":0},{"d":365,"v":0}],
"h":[{"d":1,"v":4.8},{"d":2,"v":4.8},{"d":3,"v":4.5},{"d":5,"v":11},{"d":8,"v":13.1},{"d":9,"v":7.7},{"d":10,"v":47},{"d":11,"v":23.2},{"d":12,"v":19.2},{"d":13,"v":42.7},{"d":14,"v":32},{"d":15,"v":7.7},{"d":16,"v":22},{"d":17,"v":7.7},{"d":18,"v":6},{"d":19,"v":9.7},{"d":20,"v":5.6},{"d":21,"v":15},{"d":22,"v":4.5},{"d":23,"v":5.8},{"d":24,"v":4.5},{"d":25,"v":48.4},{"d":26,"v":21.7},{"d":27,"v":8.2},{"d":28,"v":30.3},{"d":29,"v":3.8},{"d":30,"v":11.3},{"d":31,"v":4.2},{"d":32,"v":4.5},{"d":33,"v":4.8},{"d":34,"v":3.8},{"d":35,"v":4.2},{"d":36,"v":13.9},{"d":38,"v":11.6},{"d":39,"v":3.8},{"d":40,"v":4.2},{"d":42,"v":5.8},{"d":43,"v":21.6},{"d":44,"v":19.3},{"d":45,"v":2.9},{"d":46,"v":3.2},{"d":47,"v":3.5},{"d":48,"v":3.8},{"d":50,"v":10.5},{"d":51,"v":4.8},{"d":52,"v":4.2},{"d":54,"v":11.3},{"d":55,"v":3.8},{"d":56,"v":8.2},{"d":57,"v":11.9},{"d":58,"v":11.7},{"d":60,"v":9.4},{"d":62,"v":4.5},{"d":64,"v":11.3},{"d":65,"v":11.9},{"d":66,"v":11},{"d":67,"v":12.5},{"d":69,"v":8.7},{"d":70,"v":3.5},{"d":71,"v":3.8},{"d":73,"v":0},{"d":74,"v":4.5},{"d":76,"v":4.5},{"d":77,"v":10.3},{"d":79,"v":4.8},{"d":80,"v":10},{"d":81,"v":3.8},{"d":83,"v":3.8},{"d":85,"v":3.2},{"d":87,"v":4.2},{"d":88,"v":0},{"d":91,"v":49},{"d":92,"v":6.9},{"d":93,"v":30.6},{"d":94,"v":3.8},{"d":95,"v":3.5},{"d":96,"v":4.8},{"d":97,"v":3.8},{"d":98,"v":4.5},{"d":99,"v":4.2},{"d":100,"v":18.2},{"d":102,"v":1.7},{"d":108,"v":1.7},{"d":116,"v":3.5},{"d":120,"v":1.7},{"d":121,"v":5},{"d":195,"v":1.4},{"d":265,"v":1},{"d":267,"v":1},{"d":269,"v":0.9},{"d":272,"v":3.8},{"d":273,"v":1.4},{"d":285,"v":0.7},{"d":309,"v":2.3},{"d":313,"v":1.7},{"d":315,"v":1.4},{"d":318,"v":10},{"d":320,"v":1.4},{"d":322,"v":2.6},{"d":326,"v":5.4},{"d":327,"v":2.6},{"d":337,"v":12.6},{"d":338,"v":51.5},{"d":339,"v":12.3},{"d":341,"v":5},{"d":342,"v":4.8},{"d":343,"v":38},{"d":344,"v":47.4},{"d":345,"v":43.6},{"d":346,"v":47.8},{"d":347,"v":50},{"d":349,"v":44.2},{"d":351,"v":47.4},{"d":352,"v":54.2},{"d":353,"v":3.5},{"d":354,"v":3.8},{"d":355,"v":4},{"d":356,"v":3.5},{"d":357,"v":3.2},{"d":358,"v":3.8},{"d":359,"v":2.3},{"d":361,"v":3.2},{"d":363,"v":3.8},{"d":364,"v":2.9},{"d":116,"v":0},{"d":124,"v":0},{"d":126,"v":0},{"d":135,"v":0},{"d":136,"v":0},{"d":154,"v":0},{"d":163,"v":0},{"d":165,"v":0},{"d":166,"v":0},{"d":167,"v":0},{"d":169,"v":0},{"d":172,"v":0},{"d":173,"v":0},{"d":175,"v":0},{"d":176,"v":0},{"d":177,"v":0},{"d":178,"v":0},{"d":179,"v":0},{"d":180,"v":0},{"d":181,"v":0},{"d":274,"v":0},{"d":275,"v":0},{"d":276,"v":0},{"d":277,"v":0},{"d":278,"v":0},{"d":279,"v":0},{"d":280,"v":0},{"d":281,"v":0},{"d":282,"v":0},{"d":283,"v":0},{"d":284,"v":0},{"d":286,"v":0},{"d":287,"v":0},{"d":288,"v":0},{"d":289,"v":0},{"d":290,"v":0},{"d":291,"v":0},{"d":292,"v":0},{"d":293,"v":0},{"d":294,"v":0},{"d":295,"v":0},{"d":296,"v":0},{"d":297,"v":0},{"d":298,"v":0},{"d":299,"v":0},{"d":300,"v":0},{"d":301,"v":0},{"d":302,"v":0},{"d":303,"v":0},{"d":304,"v":0},{"d":305,"v":0},{"d":306,"v":0},{"d":329,"v":0},{"d":330,"v":0},{"d":331,"v":0},{"d":332,"v":0},{"d":333,"v":0},{"d":334,"v":0},{"d":335,"v":0},{"d":336,"v":0}],
"i":[{"d":1,"v":12.8},{"d":2,"v":13.1},{"d":3,"v":12},{"d":4,"v":3},{"d":5,"v":5},{"d":6,"v":13.1},{"d":7,"v":39},{"d":8,"v":33},{"d":9,"v":24.8},{"d":11,"v":60},{"d":12,"v":40},{"d":13,"v":27.6},{"d":14,"v":30.6},{"d":15,"v":22},{"d":16,"v":24.3},{"d":17,"v":22},{"d":18,"v":27.7},{"d":19,"v":31},{"d":20,"v":35.3},{"d":21,"v":50.6},{"d":22,"v":22.2},{"d":23,"v":0},{"d":24,"v":51.8},{"d":25,"v":22.7},{"d":26,"v":40.9},{"d":27,"v":21.5},{"d":28,"v":28.3},{"d":29,"v":17.5},{"d":30,"v":16.2},{"d":31,"v":37.6},{"d":32,"v":24.6},{"d":33,"v":23},{"d":34,"v":22.4},{"d":35,"v":28.4},{"d":36,"v":14.9},{"d":37,"v":5.3},{"d":38,"v":33},{"d":39,"v":3.2},{"d":40,"v":41.3},{"d":41,"v":24.5},{"d":42,"v":20},{"d":43,"v":54.8},{"d":45,"v":26.6},{"d":46,"v":21.3},{"d":47,"v":28.9},{"d":48,"v":13.9},{"d":49,"v":0},{"d":50,"v":47},{"d":51,"v":0},{"d":52,"v":34.7},{"d":53,"v":25.5},{"d":54,"v":13.3},{"d":55,"v":22},{"d":56,"v":34.5},{"d":57,"v":15.3},{"d":58,"v":24.4},{"d":60,"v":12.8},{"d":61,"v":12.8},{"d":62,"v":10.7},{"d":63,"v":3.3},{"d":64,"v":16.2},{"d":65,"v":21.3},{"d":66,"v":21.8},{"d":67,"v":20.7},{"d":68,"v":12.2},{"d":70,"v":4.8},{"d":71,"v":14.4},{"d":72,"v":12},{"d":73,"v":9.4},{"d":74,"v":12.5},{"d":75,"v":16.5},{"d":76,"v":8.2},{"d":77,"v":13.1},{"d":78,"v":6.9},{"d":79,"v":17.3},{"d":80,"v":9.7},{"d":81,"v":11.6},{"d":82,"v":7.9},{"d":83,"v":5},{"d":84,"v":7.7},{"d":85,"v":3.8},{"d":86,"v":9.7},{"d":87,"v":8.5},{"d":88,"v":6},{"d":89,"v":9.7},{"d":90,"v":6.9},{"d":91,"v":47.8},{"d":92,"v":13.4},{"d":93,"v":23.2},{"d":94,"v":16.2},{"d":95,"v":2},{"d":96,"v":37},{"d":97,"v":7.2},{"d":115,"v":36.2},{"d":116,"v":4.8},{"d":117,"v":5.6},{"d":124,"v":1},{"d":126,"v":16.4},{"d":135,"v":1.4},{"d":136,"v":2.6},{"d":154,"v":1.5},{"d":163,"v":4},{"d":165,"v":2},{"d":166,"v":1.4},{"d":167,"v":1},{"d":169,"v":0.7},{"d":172,"v":1},{"d":173,"v":1.4},{"d":175,"v":1.4},{"d":176,"v":4.6},{"d":177,"v":4.5},{"d":178,"v":3.8},{"d":179,"v":3.2},{"d":180,"v":2.7},{"d":181,"v":2.5},{"d":272,"v":4.5},{"d":273,"v":4.2},{"d":274,"v":3.8},{"d":275,"v":3.5},{"d":276,"v":2.6},{"d":277,"v":2.5},{"d":278,"v":2.6},{"d":279,"v":2.3},{"d":280,"v":3.1},{"d":281,"v":2.3},{"d":282,"v":3.3},{"d":283,"v":2.9},{"d":284,"v":4.5},{"d":285,"v":4.5},{"d":286,"v":3.2},{"d":287,"v":4.5},{"d":288,"v":3.1},{"d":289,"v":2.3},{"d":290,"v":2.3},{"d":291,"v":2.6},{"d":292,"v":2.6},{"d":293,"v":3.5},{"d":294,"v":2.3},{"d":295,"v":1.4},{"d":296,"v":2.6},{"d":297,"v":3.2},{"d":298,"v":3.1},{"d":299,"v":2.3},{"d":300,"v":2},{"d":301,"v":2.6},{"d":302,"v":3.5},{"d":303,"v":3.5},{"d":304,"v":3.5},{"d":305,"v":3.2},{"d":306,"v":2.9},{"d":307,"v":2.6},{"d":308,"v":0.4},{"d":309,"v":4.5},{"d":310,"v":4.2},{"d":311,"v":3.8},{"d":312,"v":3.8},{"d":313,"v":3.7},{"d":314,"v":3.8},{"d":315,"v":4.2},{"d":316,"v":3.8},{"d":317,"v":4.5},{"d":318,"v":6.8},{"d":319,"v":4.3},{"d":320,"v":4.5},{"d":321,"v":4.2},{"d":322,"v":4.5},{"d":323,"v":4.6},{"d":324,"v":4.3},{"d":325,"v":4.6},{"d":326,"v":4.3},{"d":327,"v":4.5},{"d":328,"v":4.2},{"d":329,"v":4.2},{"d":330,"v":4},{"d":331,"v":4.2},{"d":332,"v":4.5},{"d":333,"v":6.9},{"d":334,"v":8.2},{"d":335,"v":10.3},{"d":336,"v":10.4},{"d":337,"v":18.7},{"d":338,"v":20.4},{"d":339,"v":24.6},{"d":340,"v":7.9},{"d":341,"v":10.8},{"d":342,"v":16.4},{"d":343,"v":14.5},{"d":344,"v":16.8},{"d":345,"v":22.5},{"d":346,"v":18.6},{"d":347,"v":18.8},{"d":348,"v":22.1},{"d":349,"v":13.6},{"d":350,"v":14.4},{"d":351,"v":19.4},{"d":352,"v":47.5},{"d":353,"v":2.6},{"d":354,"v":10.5},{"d":355,"v":3.2},{"d":356,"v":6},{"d":357,"v":4.8},{"d":358,"v":3.8},{"d":359,"v":4.2},{"d":360,"v":7.6},{"d":361,"v":16.7},{"d":362,"v":4},{"d":363,"v":4},{"d":364,"v":8.8},{"d":98,"v":0},{"d":99,"v":0},{"d":100,"v":0},{"d":101,"v":0},{"d":102,"v":0},{"d":103,"v":0},{"d":104,"v":0},{"d":105,"v":0},{"d":106,"v":0},{"d":107,"v":0},{"d":108,"v":0},{"d":109,"v":0},{"d":110,"v":0},{"d":111,"v":0},{"d":112,"v":0},{"d":113,"v":0},{"d":114,"v":0},{"d":118,"v":0},{"d":119,"v":0},{"d":120,"v":0},{"d":121,"v":0},{"d":122,"v":0},{"d":123,"v":0},{"d":125,"v":0},{"d":127,"v":0},{"d":128,"v":0},{"d":129,"v":0},{"d":130,"v":0},{"d":131,"v":0},{"d":132,"v":0},{"d":133,"v":0},{"d":134,"v":0},{"d":137,"v":0},{"d":138,"v":0},{"d":139,"v":0},{"d":140,"v":0},{"d":141,"v":0},{"d":142,"v":0},{"d":143,"v":0},{"d":144,"v":0},{"d":145,"v":0},{"d":146,"v":0},{"d":147,"v":0},{"d":148,"v":0},{"d":149,"v":0},{"d":150,"v":0},{"d":151,"v":0},{"d":152,"v":0},{"d":153,"v":0},{"d":155,"v":0},{"d":156,"v":0},{"d":157,"v":0},{"d":158,"v":0},{"d":159,"v":0},{"d":160,"v":0},{"d":161,"v":0},{"d":162,"v":0},{"d":164,"v":0},{"d":168,"v":0},{"d":170,"v":0},{"d":171,"v":0},{"d":174,"v":0},{"d":182,"v":0},{"d":183,"v":0},{"d":184,"v":0},{"d":185,"v":0},{"d":186,"v":0},{"d":187,"v":0},{"d":188,"v":0},{"d":189,"v":0},{"d":190,"v":0},{"d":191,"v":0},{"d":192,"v":0},{"d":193,"v":0},{"d":194,"v":0},{"d":195,"v":0},{"d":196,"v":0},{"d":197,"v":0},{"d":198,"v":0},{"d":199,"v":0},{"d":200,"v":0},{"d":201,"v":0},{"d":202,"v":0},{"d":203,"v":0},{"d":204,"v":0},{"d":205,"v":0},{"d":206,"v":0},{"d":207,"v":0},{"d":208,"v":0},{"d":209,"v":0},{"d":210,"v":0},{"d":211,"v":0},{"d":212,"v":0},{"d":213,"v":0},{"d":214,"v":0},{"d":215,"v":0},{"d":216,"v":0},{"d":217,"v":0},{"d":218,"v":0},{"d":219,"v":0},{"d":220,"v":0},{"d":221,"v":0},{"d":222,"v":0},{"d":223,"v":0},{"d":224,"v":0},{"d":225,"v":0},{"d":226,"v":0},{"d":227,"v":0},{"d":228,"v":0},{"d":229,"v":0},{"d":230,"v":0},{"d":231,"v":0},{"d":232,"v":0},{"d":233,"v":0},{"d":234,"v":0},{"d":235,"v":0},{"d":236,"v":0},{"d":237,"v":0},{"d":238,"v":0},{"d":239,"v":0},{"d":240,"v":0},{"d":241,"v":0},{"d":242,"v":0},{"d":243,"v":0},{"d":244,"v":0},{"d":245,"v":0},{"d":246,"v":0},{"d":247,"v":0},{"d":248,"v":0},{"d":249,"v":0},{"d":250,"v":0},{"d":251,"v":0},{"d":252,"v":0},{"d":253,"v":0},{"d":254,"v":0},{"d":255,"v":0},{"d":256,"v":0},{"d":257,"v":0},{"d":258,"v":0},{"d":259,"v":0},{"d":260,"v":0},{"d":261,"v":0},{"d":262,"v":0},{"d":263,"v":0},{"d":264,"v":0},{"d":265,"v":0},{"d":266,"v":0},{"d":267,"v":0},{"d":268,"v":0},{"d":269,"v":0},{"d":270,"v":0},{"d":271,"v":0}]
},
"vconcat":[
{"width":983,"height":323,"encoding":{"x":{"field":"d","type":"quantitative","title":null,"scale":{"domain":[0,365],"nice":false},"axis":{"values":[0,50,100,150,200,250,300,350],"grid":false,"labelPadding":21,"labelFontSize":24,"labelFlush":false}}},
"resolve":{"scale":{"y":"independent"}},
"layer":[
{"data":{"name":"a"},"mark":{"type":"point","filled":false,"size":56,"strokeWidth":1.7,"opacity":1},"encoding":{"y":{"field":"v","type":"quantitative","title":"COP_Th_DWH","scale":{"domain":[0,1.6],"nice":false},"axis":{"orient":"left","values":[0,0.2,0.4,0.6,0.8,1,1.2,1.4,1.6],"format":".1f","grid":true,"gridColor":"#d9d9d9","gridWidth":2,"labelPadding":22,"titlePadding":7}},
"stroke":{"datum":"COP_Th DHW L2022","type":"nominal","title":null,"scale":{"domain":["COP_Th DHW L2022","COP_Th DHW R2022","COP_Th SH L2022","COP_Th SH R2022"],"range":["#4F81BD","#C0504D","#9BBB59","#8064A2"]},"legend":{"orient":"none","legendX":-52,"legendY":395,"direction":"horizontal","columns":4,"columnPadding":51,"symbolSize":60,"symbolStrokeWidth":1.7,"labelOffset":0,"padding":0}},
"fill":{"datum":"COP_Th DHW L2022","type":"nominal","title":null,"scale":{"domain":["COP_Th DHW L2022","COP_Th DHW R2022","COP_Th SH L2022","COP_Th SH R2022"],"range":["#4F81BD","#C0504D","#9BBB59","#8064A2"]},"legend":{"orient":"none","legendX":-52,"legendY":395,"direction":"horizontal","columns":4,"columnPadding":51,"symbolSize":60,"symbolStrokeWidth":1.7,"labelOffset":0,"padding":0}},
"shape":{"datum":"COP_Th DHW L2022","type":"nominal","title":null,"scale":{"domain":["COP_Th DHW L2022","COP_Th DHW R2022","COP_Th SH L2022","COP_Th SH R2022"],"range":["circle","circle","M-1,-1L1,1M-1,1L1,-1","M-1,-1L1,1M-1,1L1,-1"]},"legend":{"orient":"none","legendX":-52,"legendY":395,"direction":"horizontal","columns":4,"columnPadding":51,"symbolSize":60,"symbolStrokeWidth":1.7,"labelOffset":0,"padding":0}}}},
{"data":{"name":"b"},"mark":{"type":"point","filled":false,"size":56,"strokeWidth":1.7,"opacity":1},"encoding":{"y":{"field":"v","type":"quantitative","scale":{"domain":[0,1.6],"nice":false},"axis":null},
"stroke":{"datum":"COP_Th DHW R2022","type":"nominal"},"fill":{"datum":"COP_Th DHW R2022","type":"nominal"},"shape":{"datum":"COP_Th DHW R2022","type":"nominal"}}},
{"data":{"name":"c"},"mark":{"type":"point","filled":false,"size":72,"strokeWidth":2,"opacity":1},"encoding":{"y":{"field":"v","type":"quantitative","title":"COP_Th_SH","scale":{"domain":[0,6],"nice":false},"axis":{"orient":"right","values":[0,1,2,3,4,5,6],"format":"d","grid":false,"labelPadding":18,"titlePadding":11,"titleAngle":270,"titleBaseline":"top"}},
"stroke":{"datum":"COP_Th SH L2022","type":"nominal"},"fill":{"datum":"COP_Th SH L2022","type":"nominal"},"shape":{"datum":"COP_Th SH L2022","type":"nominal"}}},
{"data":{"name":"e"},"mark":{"type":"point","filled":false,"size":72,"strokeWidth":2,"opacity":1},"encoding":{"y":{"field":"v","type":"quantitative","scale":{"domain":[0,6],"nice":false},"axis":null},
"stroke":{"datum":"COP_Th SH R2022","type":"nominal"},"fill":{"datum":"COP_Th SH R2022","type":"nominal"},"shape":{"datum":"COP_Th SH R2022","type":"nominal"}}}
]},
{"width":971,"height":323,"encoding":{"x":{"field":"d","type":"quantitative","title":null,"scale":{"domain":[0,365],"nice":false},"axis":{"values":[0,50,100,150,200,250,300,350],"grid":false,"labelPadding":21,"labelFontSize":24,"labelFlush":false}}},
"resolve":{"scale":{"y":"independent"}},
"layer":[
{"data":{"name":"f"},"mark":{"type":"point","filled":false,"size":56,"strokeWidth":1.7,"opacity":1},"encoding":{"y":{"field":"v","type":"quantitative","title":"COP_El_DWH","scale":{"domain":[0,7],"nice":false},"axis":{"orient":"left","values":[0,1,2,3,4,5,6,7],"format":".1f","grid":true,"gridColor":"#d9d9d9","gridWidth":2,"labelPadding":22,"titlePadding":7}},
"stroke":{"datum":"COP_El DHW L2022","type":"nominal","title":null,"scale":{"domain":["COP_El DHW L2022","COP_El DHW R2022","COP_El SH L2022","COP_El SH R2022"],"range":["#4F81BD","#C0504D","#9BBB59","#8064A2"]},"legend":{"orient":"none","legendX":-16,"legendY":390,"direction":"horizontal","columns":4,"columnPadding":35,"symbolSize":60,"symbolStrokeWidth":1.7,"labelOffset":0,"padding":0}},
"fill":{"datum":"COP_El DHW L2022","type":"nominal","title":null,"scale":{"domain":["COP_El DHW L2022","COP_El DHW R2022","COP_El SH L2022","COP_El SH R2022"],"range":["#4F81BD","#C0504D","#9BBB59","#8064A2"]},"legend":{"orient":"none","legendX":-16,"legendY":390,"direction":"horizontal","columns":4,"columnPadding":35,"symbolSize":60,"symbolStrokeWidth":1.7,"labelOffset":0,"padding":0}},
"shape":{"datum":"COP_El DHW L2022","type":"nominal","title":null,"scale":{"domain":["COP_El DHW L2022","COP_El DHW R2022","COP_El SH L2022","COP_El SH R2022"],"range":["circle","circle","M-1,-1L1,1M-1,1L1,-1","M-1,-1L1,1M-1,1L1,-1"]},"legend":{"orient":"none","legendX":-16,"legendY":390,"direction":"horizontal","columns":4,"columnPadding":35,"symbolSize":60,"symbolStrokeWidth":1.7,"labelOffset":0,"padding":0}}}},
{"data":{"name":"g"},"mark":{"type":"point","filled":false,"size":56,"strokeWidth":1.7,"opacity":1},"encoding":{"y":{"field":"v","type":"quantitative","scale":{"domain":[0,7],"nice":false},"axis":null},
"stroke":{"datum":"COP_El DHW R2022","type":"nominal"},"fill":{"datum":"COP_El DHW R2022","type":"nominal"},"shape":{"datum":"COP_El DHW R2022","type":"nominal"}}},
{"data":{"name":"h"},"mark":{"type":"point","filled":false,"size":72,"strokeWidth":2,"opacity":1},"encoding":{"y":{"field":"v","type":"quantitative","title":"COP_El_SH","scale":{"domain":[0,60],"nice":false},"axis":{"orient":"right","values":[0,10,20,30,40,50,60],"format":"d","grid":false,"labelPadding":20,"titlePadding":9,"titleAngle":270,"titleBaseline":"top"}},
"stroke":{"datum":"COP_El SH L2022","type":"nominal"},"fill":{"datum":"COP_El SH L2022","type":"nominal"},"shape":{"datum":"COP_El SH L2022","type":"nominal"}}},
{"data":{"name":"i"},"mark":{"type":"point","filled":false,"size":72,"strokeWidth":2,"opacity":1},"encoding":{"y":{"field":"v","type":"quantitative","scale":{"domain":[0,60],"nice":false},"axis":null},
"stroke":{"datum":"COP_El SH R2022","type":"nominal"},"fill":{"datum":"COP_El SH R2022","type":"nominal"},"shape":{"datum":"COP_El SH R2022","type":"nominal"}}}
]}
]}
